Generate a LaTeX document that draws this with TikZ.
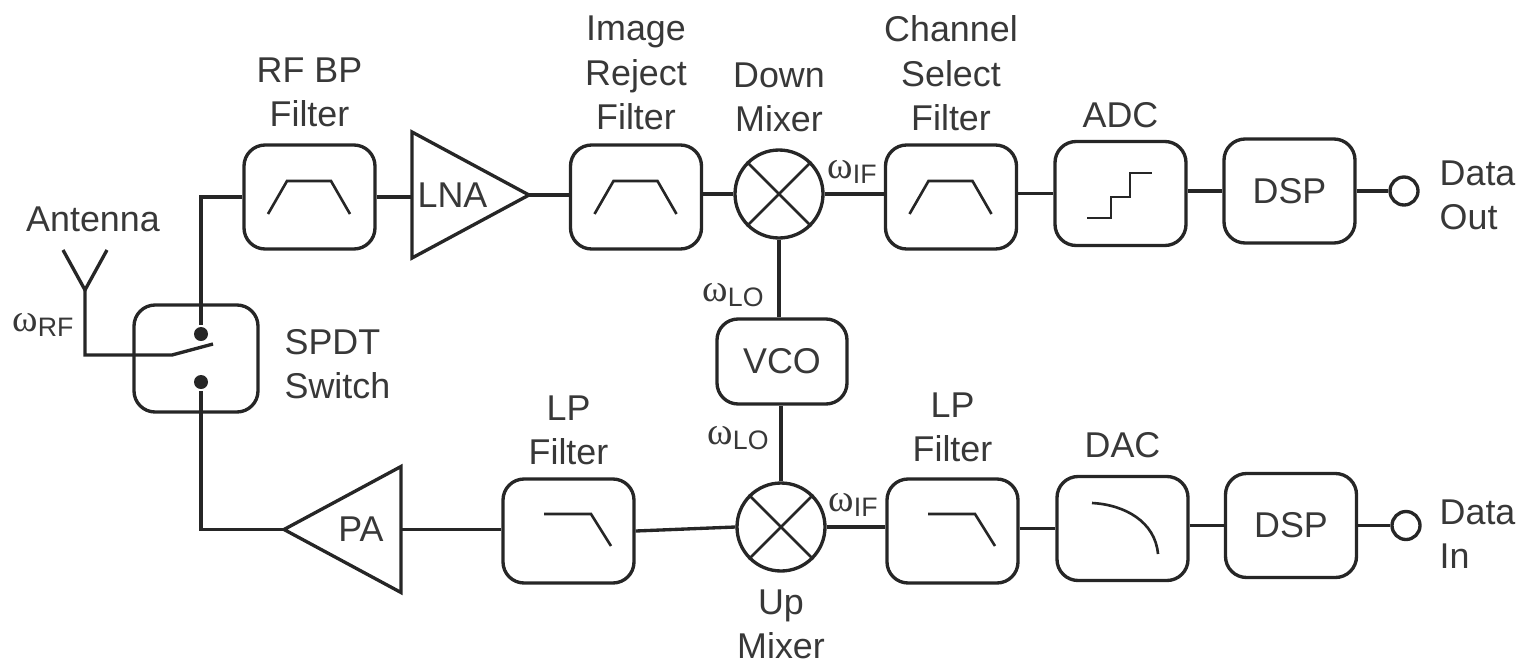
\documentclass[tikz,border=0pt]{standalone}
\usepackage{fontspec}
\setmainfont{Liberation Sans}
\newfontfamily\omegafont{Liberation Serif}
\usetikzlibrary{positioning, shapes.geometric, calc}
\definecolor{cink}{HTML}{262626}
\definecolor{ctext}{HTML}{383838}
\tikzset{
  every picture/.style={line width=0.95pt, draw=cink},
  box/.style={draw=cink, rounded corners=6pt, minimum width=1.31cm, minimum height=1.04cm, inner sep=0pt},
  mixer/.style={draw=cink, circle, minimum size=0.88cm, inner sep=0pt},
  amp/.style={draw=cink, isosceles triangle, isosceles triangle stretches, minimum width=1.26cm, minimum height=1.17cm, inner sep=0pt, outer sep=0pt, anchor=lower side},
  port/.style={draw=cink, circle, minimum size=0.28cm, inner sep=0pt},
  contact/.style={fill=cink, circle, minimum size=0.14cm, inner sep=0pt},
  wire/.style={draw=cink, line width=0.95pt},
  glyph/.style={draw=cink, line width=0.75pt},
  tag/.style={font=\fontsize{10.2}{12.6}\selectfont, text=ctext, align=center, inner sep=0pt},
  freq/.style={text=ctext, inner sep=0pt},
}
\newcommand{\omsub}[1]{{\omegafont\fontsize{11}{12}\selectfont ω}{\fontsize{7.6}{9}\selectfont\raisebox{-0.35ex}{#1}}}
\newcommand{\bandpass}[1]{
  \draw[glyph, shift={(#1)}] (-0.415,-0.17) -- (-0.225,0.16) -- (0.215,0.16) -- (0.405,-0.17);
}
\newcommand{\lowpass}[1]{
  \draw[glyph, shift={(#1)}] (-0.245,0.17) -- (0.225,0.17) -- (0.425,-0.15);
}

\begin{document}
\begin{tikzpicture}
  \useasboundingbox (0,0) rectangle (15.27,6.63);
  % filter and converter blocks
  \foreach \n/\x/\y in {rfbp/3.095/4.66, imgrej/6.36/4.66, chsel/9.51/4.66, adc/11.205/4.695, dspout/12.895/4.72, lpleft/5.685/1.32, lpright/9.525/1.32, dac/11.225/1.345, dspin/12.91/1.375}
    { \node[box] (\n) at (\x,\y) {}; }
  \node[box, minimum width=1.24cm, minimum height=1.07cm] (spdt) at (1.96,3.045) {};
  \node[box, minimum width=1.30cm, minimum height=0.85cm, tag] (vco) at (7.82,3.015) {VCO};
  \node[tag] (dspouttxt) at (dspout) {DSP};
  \node[tag] (dspintxt) at (dspin) {DSP};
  % mixers
  \node[mixer] (dmix) at (7.79,4.69) {};
  \node[mixer] (umix) at (7.81,1.36) {};
  \foreach \m in {dmix,umix}
    { \draw[glyph] (\m.45) -- (\m.225) (\m.135) -- (\m.315); }
  % amplifiers
  \node[amp] (lna) at (4.12,4.68) {};
  \node[amp, shape border rotate=180] (pa) at (4.01,1.335) {};
  \node[tag] (lnatxt) at (4.525,4.68) {LNA};
  \node[tag] (patxt) at (3.61,1.335) {PA};
  % ports and switch contacts
  \node[port] (dout) at (14.04,4.72) {};
  \node[port] (din) at (14.06,1.375) {};
  \node[contact] (throwa) at (2.01,3.29) {};
  \node[contact] (throwb) at (2.01,2.81) {};
  \coordinate (antfoot) at (0.85,3.08);
  \coordinate (anttop) at (0.85,3.73);
  \coordinate (antleft) at (0.63,4.13);
  \coordinate (antright) at (1.07,4.13);
  \coordinate (bend) at (1.72,3.08);
  \coordinate (pole) at (2.13,3.19);
  % connections
  \draw[wire] (antleft) -- (anttop) -- (antright);
  \draw[wire] (anttop) -- (antfoot) -- (bend) -- (pole);
  \draw[wire] (rfbp.west) -| (throwa);
  \draw[wire] (pa.apex) -| (throwb);
  \draw[wire] (rfbp.east) -- (rfbp.east -| lna.lower side);
  \draw[wire] (lna.apex) -- (lna.apex -| imgrej.west);
  \draw[wire] (dmix.west -| imgrej.east) -- (dmix.west);
  \draw[wire] (dmix.east) -- (dmix.east -| chsel.west);
  \draw[wire] (adc.west -| chsel.east) -- (adc.west);
  \draw[wire] (dspout.west -| adc.east) -- (dspout.west);
  \draw[wire] (dspout.east) -- (dout.west);
  \draw[wire] (dmix.south) -- (dmix.south |- vco.north);
  \draw[wire] (umix.north) -- (umix.north |- vco.south);
  \draw[wire] (pa.lower side) -- (pa.lower side -| lpleft.west);
  \draw[wire] (lpleft.east) -- (umix.west);
  \draw[wire] (umix.east) -- (umix.east -| lpright.west);
  \draw[wire] (dac.west -| lpright.east) -- (dac.west);
  \draw[wire] (dspin.west -| dac.east) -- (dspin.west);
  \draw[wire] (dspin.east) -- (din.west);
  % block glyphs
  \bandpass{rfbp}
  \bandpass{imgrej}
  \bandpass{chsel}
  \lowpass{lpleft}
  \lowpass{lpright}
  \draw[glyph, shift={(adc)}] (-0.335,-0.245) -- (-0.095,-0.245) -- (-0.095,-0.035) -- (0.095,-0.035) -- (0.095,0.205) -- (0.315,0.205);
  \draw[glyph, shift={(dac)}] (-0.305,0.255) to[out=-3, in=95] (0.355,-0.255);
  % labels
  \node[tag, above=0.15cm of rfbp] (rfbptxt) {RF BP\\Filter};
  \node[tag, above=0.12cm of imgrej] (imgrejtxt) {Image\\Reject\\Filter};
  \node[tag, above=0.15cm of dmix] (dmixtxt) {Down\\Mixer};
  \node[tag, above=0.11cm of chsel] (chseltxt) {Channel\\Select\\Filter};
  \node[tag, above=0.1cm of adc] (adctxt) {ADC};
  \node[tag, above=0.11cm of lpleft] (lplefttxt) {LP\\Filter};
  \node[tag, above=0.14cm of lpright] (lprighttxt) {LP\\Filter};
  \node[tag, above=0.15cm of dac] (dactxt) {DAC};
  \node[tag, below=0.15cm of umix] (umixtxt) {Up\\Mixer};
  \node[tag, anchor=west, align=left] (douttxt) at (14.38,4.68) {Data\\Out};
  \node[tag, anchor=west, align=left] (dintxt) at (14.38,1.29) {Data\\In};
  \node[tag, anchor=west, align=left] (spdttxt) at (2.83,2.99) {SPDT\\Switch};
  \node[tag] (anttxt) at (0.93,4.44) {Antenna};
  \node[freq] (wrf) at (0.43,3.38) {\omsub{RF}};
  \node[freq] (wlou) at (7.33,3.68) {\omsub{LO}};
  \node[freq] (wlod) at (7.38,2.25) {\omsub{LO}};
  \node[freq] (wifu) at (8.52,4.91) {\omsub{IF}};
  \node[freq] (wifd) at (8.53,1.58) {\omsub{IF}};
\end{tikzpicture}
\end{document}
